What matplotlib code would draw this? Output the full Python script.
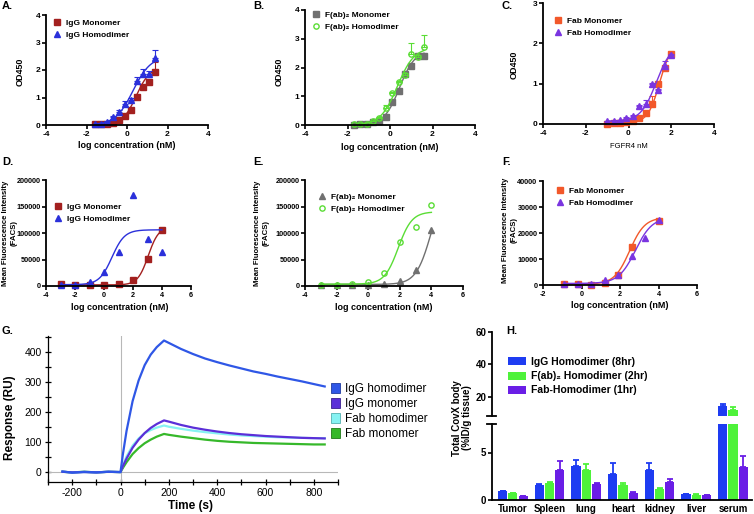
import numpy as np
import matplotlib
matplotlib.use('Agg')
import matplotlib.pyplot as plt
from matplotlib.patches import Patch
from matplotlib.ticker import MultipleLocator

W, H = 754, 514
plt.rcParams['font.family'] = ['Liberation Sans', 'DejaVu Sans']
plt.rcParams['axes.unicode_minus'] = False

# ---- ELISA (A-C) ----
a_x = [-1.6, -1.3, -1.0, -0.7, -0.4, -0.1, 0.2, 0.5, 0.8, 1.1, 1.4]
a_mono = [0.02, 0.03, 0.05, 0.09, 0.17, 0.33, 0.55, 1.03, 1.38, 1.58, 1.92]
a_mono_err = [0, 0, 0, 0, 0.02, 0.03, 0.04, 0.05, 0.06, 0.08, 0.38]
a_homo = [0.04, 0.05, 0.12, 0.28, 0.48, 0.78, 0.92, 1.6, 1.85, 1.85, 2.45]
a_homo_err = [0.01, 0.01, 0.02, 0.04, 0.06, 0.1, 0.05, 0.15, 0.17, 0.12, 0.27]
fit_a_mono = (0.0, 2.1, 0.45, 1.3)
fit_a_homo = (0.0, 2.5, 0.3, 1.0)

b_x = [-1.7, -1.4, -1.1, -0.8, -0.5, -0.2, 0.1, 0.4, 0.7, 1.0, 1.3, 1.6]
b_mono = [0.01, 0.02, 0.04, 0.1, 0.15, 0.27, 0.8, 1.18, 1.78, 2.05, 2.4, 2.4]
b_mono_err = [0, 0, 0, 0, 0, 0.02, 0.03, 0.04, 0.05, 0.05, 0.06, 0.08]
b_homo = [0.02, 0.04, 0.05, 0.13, 0.25, 0.6, 1.1, 1.48, 1.75, 2.48, 2.35, 2.72]
b_homo_err = [0, 0, 0, 0.02, 0.03, 0.1, 0.05, 0.06, 0.05, 0.37, 0.1, 0.4]
fit_b_mono = (0.0, 2.6, 0.45, 1.2)
fit_b_homo = (0.0, 2.7, 0.35, 1.1)

c_x = [-1.0, -0.7, -0.4, -0.1, 0.2, 0.5, 0.8, 1.1, 1.4, 1.7, 2.0]
c_mono = [0.01, 0.02, 0.03, 0.05, 0.08, 0.16, 0.27, 0.5, 0.98, 1.38, 1.73]
c_mono_err = [0, 0, 0, 0, 0.01, 0.02, 0.03, 0.2, 0.05, 0.06, 0.03]
c_homo = [0.07, 0.08, 0.1, 0.16, 0.2, 0.45, 0.5, 0.98, 0.85, 1.45, 1.7]
c_homo_err = [0, 0, 0, 0.01, 0.02, 0.03, 0.1, 0.03, 0.03, 0.1, 0.03]
fit_c_mono = (0.03, 2.0, 1.45, 1.6)
fit_c_homo = (0.07, 2.0, 1.3, 1.2)

# ---- FACS (D-F) ----
d_x = [-3, -2, -1, 0, 1, 2, 3, 4]
d_mono = [3000, 2500, 2000, 2500, 3500, 12000, 51000, 106000]
d_homo = [1500, 2000, 8000, 27000, 64000, 171000, 89000, 64000]
fit_d_mono = (2000, 112000, 3.05, 1.2)
fit_d_homo = (2500, 106000, 0.55, 1.0)

e_x = [-3, -2, -1, 0, 1, 2, 3, 4]
e_mono = [1500, 1500, 2000, 2500, 3500, 10000, 30000, 105000]
e_homo = [1500, 1500, 3500, 8000, 25000, 83000, 112000, 153000]
fit_e_mono = (3000, 200000, 4.0, 0.9)
fit_e_homo = (3500, 140000, 1.9, 1.0)

f_x_mono = [-0.9, -0.2, 0.5, 1.2, 1.9, 2.6, 4.0]
f_mono = [200, 200, 100, 800, 4000, 14800, 24800]
f_x_homo = [-0.9, -0.2, 0.5, 1.2, 1.9, 2.6, 3.3, 4.0]
f_homo = [300, 300, 500, 1800, 4000, 11000, 18000, 25000]
fit_f_mono = (300, 26000, 2.5, 1.1)
fit_f_homo = (600, 26000, 2.8, 1.0)

# ---- SPR sensorgram (G) ----
g_t = [-240, -200, -150, -100, -50, 0, 10, 25, 50, 75, 100, 125, 150, 180,
       200, 250, 300, 350, 400, 450, 500, 550, 600, 650, 700, 750, 800, 845]
g_igg_homo = [2, -2, 1, -1, 1, 0, 60, 137, 236, 305, 356, 391, 416, 438,
              430, 410, 393, 378, 366, 355, 345, 335, 327, 318, 310, 302, 293, 285]
g_igg_mono = [1, -1, 0, -1, 1, 0, 20, 45, 81, 108, 130, 147, 160, 172,
              168, 157, 148, 141, 135, 130, 126, 123, 120, 118, 116, 114, 113, 112]
g_fab_homo = [1, -1, 0, -1, 1, 0, 23, 52, 88, 112, 129, 140, 148, 155,
              151, 144, 138, 133, 129, 125, 122, 120, 118, 116, 115, 114, 113, 113]
g_fab_mono = [1, -1, 1, -1, 1, 0, 14, 33, 60, 80, 96, 108, 118, 127,
              124, 118, 113, 108, 104, 101, 99, 97, 96, 95, 94, 93, 92, 92]
g_labels = ["IgG homodimer", "IgG monomer", "Fab homodimer", "Fab monomer"]

# ---- biodistribution (H) ----
tissues = ["Tumor", "Spleen", "lung", "heart", "kidney", "liver", "serum"]
h_igg = [0.9, 1.6, 3.6, 2.7, 3.2, 0.6, 13.9]
h_igg_err = [0.05, 0.1, 0.6, 1.2, 0.7, 0.05, 1.8]
h_fab2 = [0.7, 1.8, 3.2, 1.6, 1.2, 0.55, 11.5]
h_fab2_err = [0.05, 0.08, 0.6, 0.2, 0.05, 0.03, 1.8]
h_fab = [0.4, 3.2, 1.7, 0.75, 1.9, 0.5, 3.5]
h_fab_err = [0.03, 0.9, 0.1, 0.05, 0.3, 0.03, 1.1]
h_labels = ["IgG Homodimer (8hr)", "F(ab)\u2082 Homodimer (2hr)", "Fab-Homodimer (1hr)"]

red = '#A3201F'
blue = '#2B30DA'
grey = '#707070'
green = '#5ADD35'
orange = '#F2582A'
purple = '#7A35E0'


def fpl(x, bottom, top, logec50, hill):
    return bottom + (top - bottom) / (1 + 10 ** ((logec50 - x) * hill))


def box(l, t, r, b):
    return [l / W, 1 - b / H, (r - l) / W, (b - t) / H]


def prism(ax, xlim, ylim, xticks, yticks, size=6):
    ax.set_xlim(xlim)
    ax.set_ylim(ylim)
    ax.set_xticks(xticks)
    ax.set_yticks(yticks)
    for s in ['top', 'right']:
        ax.spines[s].set_visible(False)
    for s in ['left', 'bottom']:
        ax.spines[s].set_linewidth(1.3)
    ax.tick_params(direction='out', length=3, width=1.2, labelsize=size, pad=1)
    for lab in ax.get_xticklabels() + ax.get_yticklabels():
        lab.set_fontweight('bold')


def dose(ax, x, y, err, fit, color, marker, label, open_marker=False):
    xs = np.linspace(min(x), max(x), 200)
    ax.plot(xs, fpl(xs, *fit), color=color, lw=1)
    if err is not None:
        ax.errorbar(x, y, yerr=[np.zeros(len(err)), err], fmt='none', ecolor=color,
                    elinewidth=0.8, capsize=2, capthick=0.8)
    ax.plot(x, y, ls='none', marker=marker, ms=3.8, color=color,
            mfc='none' if open_marker else color, mew=1, label=label, clip_on=False)


def legend_at(ax, px, py, size=6):
    ax.legend(loc='upper left', bbox_to_anchor=(px / W, 1 - py / H), bbox_transform=fig.transFigure,
              frameon=False, prop={'weight': 'bold', 'size': size}, handlelength=0.8,
              handletextpad=0.6, labelspacing=0.55, borderpad=0, borderaxespad=0)


def ftext(px, py, s, size=6.5, rot=0, weight='bold', ls=1.1):
    fig.text(px / W, 1 - py / H, s, ha='center', va='center', rotation=rot,
             fontsize=size, fontweight=weight, linespacing=ls)


fig = plt.figure(figsize=(W / 100, H / 100), dpi=100)

# A
ax = fig.add_axes(box(46, 15, 208, 125))
prism(ax, (-4, 4), (0, 4), [-4, -2, 0, 2, 4], [0, 1, 2, 3, 4])
dose(ax, a_x, a_mono, a_mono_err, fit_a_mono, red, 's', 'IgG Monomer')
dose(ax, a_x, a_homo, a_homo_err, fit_a_homo, blue, '^', 'IgG Homodimer')
legend_at(ax, 54, 19)
ftext(20, 72, 'OD450', rot=90)
ftext(127, 146, 'log concentration (nM)')

# B
ax = fig.add_axes(box(305, 10, 475, 125))
prism(ax, (-4, 4), (0, 4), [-4, -2, 0, 2, 4], [0, 1, 2, 3, 4])
dose(ax, b_x, b_mono, b_mono_err, fit_b_mono, grey, 's', 'F(ab)\u2082 Monomer')
dose(ax, b_x, b_homo, b_homo_err, fit_b_homo, green, 'o', 'F(ab)\u2082 Homodimer', open_marker=True)
legend_at(ax, 313, 11)
ftext(279, 72, 'OD450', rot=90)
ftext(390, 147, 'log concentration (nM)')

# C
ax = fig.add_axes(box(543, 3, 714, 124))
prism(ax, (-4, 4), (0, 3), [-4, -2, 0, 2, 4], [0, 1, 2, 3])
dose(ax, c_x, c_mono, c_mono_err, fit_c_mono, orange, 's', 'Fab Monomer')
dose(ax, c_x, c_homo, c_homo_err, fit_c_homo, purple, '^', 'Fab Homodimer')
legend_at(ax, 555, 17)
ftext(514, 65, 'OD450', rot=90)
ftext(629, 147, 'FGFR4 nM', size=5.5, weight='normal')

# D
ax = fig.add_axes(box(46, 180, 191, 286))
prism(ax, (-4, 6), (0, 200000), [-4, -2, 0, 2, 4, 6], [0, 50000, 100000, 150000, 200000], size=5.2)
dose(ax, d_x, d_mono, None, fit_d_mono, red, 's', 'IgG Monomer')
dose(ax, d_x, d_homo, None, fit_d_homo, blue, '^', 'IgG Homodimer')
legend_at(ax, 55, 203)
ftext(10, 233, 'Mean Fluorescence Intensity\n(FACS)', size=5.6, rot=90, ls=1.45)
ftext(120, 307, 'log concentration (nM)')

# E
ax = fig.add_axes(box(305, 180, 463, 286))
prism(ax, (-4, 6), (0, 200000), [-4, -2, 0, 2, 4, 6], [0, 50000, 100000, 150000, 200000], size=5.2)
dose(ax, e_x, e_mono, None, fit_e_mono, grey, '^', 'F(ab)\u2082 Monomer')
dose(ax, e_x, e_homo, None, fit_e_homo, green, 'o', 'F(ab)\u2082 Homodimer', open_marker=True)
legend_at(ax, 319, 193)
ftext(262, 233, 'Mean Fluorescence Intensity\n(FACS)', size=5.6, rot=90, ls=1.45)
ftext(384, 308, 'log concentration (nM)')

# F
ax = fig.add_axes(box(543, 181, 697, 285))
prism(ax, (-2, 6), (0, 40000), [-2, 0, 2, 4, 6], [0, 10000, 20000, 30000, 40000], size=5.2)
dose(ax, f_x_mono, f_mono, None, fit_f_mono, orange, 's', 'Fab Monomer')
dose(ax, f_x_homo, f_homo, None, fit_f_homo, purple, '^', 'Fab Homodimer')
legend_at(ax, 557, 187)
ftext(510, 230, 'Mean Fluorescence Intensity\n(FACS)', size=5.6, rot=90, ls=1.45)
ftext(620, 306, 'log concentration (nM)')

# G
ax = fig.add_axes(box(48, 336, 338, 482))
ax.set_xlim(-300, 900)
ax.set_ylim(-33, 453)
ax.axvline(0, color='#b8b8b8', lw=0.8)
ax.axhline(0, color='#b8b8b8', lw=0.8)
g_colors = ['#2F57E6', '#5B2FD8', '#86F2F2', '#36B82A']
g_series = [g_igg_homo, g_igg_mono, g_fab_homo, g_fab_mono]
for i in [3, 2, 1, 0]:
    ax.plot(g_t, g_series[i], color=g_colors[i], lw=1.6)
ax.xaxis.set_major_locator(MultipleLocator(200))
ax.xaxis.set_minor_locator(MultipleLocator(100))
ax.yaxis.set_major_locator(MultipleLocator(100))
ax.yaxis.set_minor_locator(MultipleLocator(50))
ax.tick_params(which='both', direction='inout', length=5, width=0.9, labelsize=7.5, pad=2)
for s in ['top', 'right']:
    ax.spines[s].set_visible(False)
for s in ['left', 'bottom']:
    ax.spines[s].set_linewidth(0.9)
ftext(190, 506, 'Time (s)', size=8.5)
ftext(10, 418, 'Response (RU)', size=8.5, rot=90)
edge = ['#1F3BA0', '#3A1F90', '#55B0B0', '#207A18']
handles = [Patch(facecolor=g_colors[i], edgecolor=edge[i], lw=0.6, label=g_labels[i]) for i in range(4)]
ax.legend(handles=handles, loc='upper left', bbox_to_anchor=(331 / W, 1 - 383 / H),
          bbox_transform=fig.transFigure, frameon=False, fontsize=8.5, handlelength=0.8,
          handleheight=0.9, handletextpad=0.4, labelspacing=0.25, borderpad=0, borderaxespad=0)

# H (broken axis)
axl = fig.add_axes(box(492, 424, 752, 500))
axu = fig.add_axes(box(492, 332, 752, 416))
xpos = np.arange(len(tissues))
h_vals = [h_igg, h_fab2, h_fab]
h_errs = [h_igg_err, h_fab2_err, h_fab_err]
h_colors = ['#1E3CF2', '#4EF23A', '#6A1EE6']
offs = [-0.28, 0, 0.28]
for a in [axl, axu]:
    for v, e, c, o, lab in zip(h_vals, h_errs, h_colors, offs, h_labels):
        a.bar(xpos + o, v, 0.25, color=c, label=lab,
              yerr=[np.zeros(len(e)), e],
              error_kw=dict(ecolor=c, elinewidth=1.3, capsize=2.5, capthick=1.3))
    a.set_xlim(-0.57, 6.52)
    for s in ['top', 'right']:
        a.spines[s].set_visible(False)
    a.spines['left'].set_linewidth(1.3)
    a.tick_params(axis='y', direction='out', length=3, width=1.2, labelsize=7, pad=1)
axl.set_ylim(0, 8)
axl.set_yticks([0, 5])
axl.spines['bottom'].set_linewidth(1.3)
axl.set_xticks(xpos, tissues)
axl.tick_params(axis='x', length=0, labelsize=7, pad=3)
axu.set_ylim(8, 60)
axu.set_yticks([20, 40, 60])
axu.spines['bottom'].set_visible(False)
axu.set_xticks([])
for a in [axl, axu]:
    for lab in a.get_xticklabels() + a.get_yticklabels():
        lab.set_fontweight('bold')
axl.plot([-0.02, 0.015], [1, 1], transform=axl.transAxes, color='black', lw=1.3, clip_on=False)
axu.plot([-0.02, 0.015], [0, 0], transform=axu.transAxes, color='black', lw=1.3, clip_on=False)
axu.legend(loc='upper left', bbox_to_anchor=(508 / W, 1 - 357 / H), bbox_transform=fig.transFigure,
           frameon=False, prop={'weight': 'bold', 'size': 7.5}, handlelength=1.7, handleheight=0.8,
           handletextpad=0.5, labelspacing=0.4, borderpad=0, borderaxespad=0)
ftext(462, 418, 'Total CovX body\n(%ID/g tissue)', size=7, rot=90)

# panel letters
for letter, px, py in [('A.', 2, 6), ('B.', 253, 6), ('C.', 502, 6), ('D.', 2, 162),
                       ('E.', 253, 162), ('F.', 502, 162), ('G.', 2, 331), ('H.', 506, 331)]:
    fig.text(px / W, 1 - py / H, letter, ha='left', va='center', fontsize=8, fontweight='bold')

fig.savefig('out.png', dpi=100)
